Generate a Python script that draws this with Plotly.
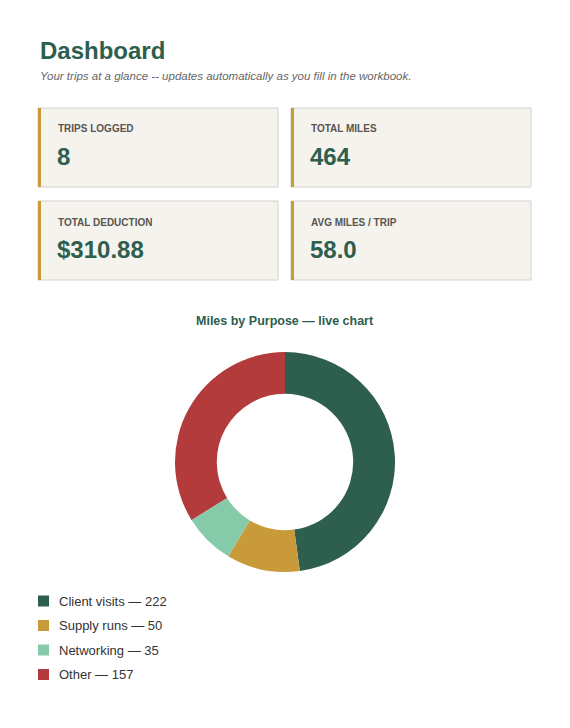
import plotly.graph_objects as go

# Data
kpi_labels = ["TRIPS LOGGED", "TOTAL MILES", "TOTAL DEDUCTION", "AVG MILES / TRIP"]
kpi_values = ["8", "464", "$310.88", "58.0"]
purposes = ["Client visits", "Supply runs", "Networking", "Other"]
miles = [222, 50, 35, 157]
colors = ["#2d5e4e", "#c99a3a", "#86cba9", "#b33b3b"]

W, H = 570, 728
# page offset compensation
def px(x): return (x - 8) / W
def py(y): return 1 - (y - 8) / H

fig = go.Figure()

fig.add_trace(go.Pie(
    labels=purposes, values=miles, hole=0.62, sort=False, direction="clockwise",
    rotation=0, marker=dict(colors=colors, line=dict(width=0)),
    textinfo="none", showlegend=False,
    domain=dict(x=[px(175), px(395)], y=[py(573), py(351)]),
))

shapes, annos = [], []
font = "Liberation Sans, Arial, sans-serif"

annos.append(dict(x=px(38), y=py(50), text="<b>Dashboard</b>", showarrow=False,
                  xanchor="left", yanchor="middle", font=dict(size=24, color="#2d5e4e", family=font)))
annos.append(dict(x=px(38), y=py(76), text="<i>Your trips at a glance -- updates automatically as you fill in the workbook.</i>",
                  showarrow=False, xanchor="left", yanchor="middle", font=dict(size=11.5, color="#666", family=font)))

card_x = [38, 291]
card_y = [108, 201]
for i, (lab, val) in enumerate(zip(kpi_labels, kpi_values)):
    x0 = card_x[i % 2]; y0 = card_y[i // 2]
    x1, y1 = x0 + 240, y0 + 79
    shapes.append(dict(type="rect", xref="paper", yref="paper", x0=px(x0), x1=px(x1), y0=py(y1), y1=py(y0),
                       fillcolor="#f5f3ee", line=dict(color="#d5d2cb", width=1)))
    shapes.append(dict(type="rect", xref="paper", yref="paper", x0=px(x0), x1=px(x0 + 3), y0=py(y1), y1=py(y0),
                       fillcolor="#c99a3a", line=dict(width=0)))
    annos.append(dict(x=px(x0 + 18), y=py(y0 + 21), text="<b>" + lab + "</b>", showarrow=False,
                      xanchor="left", yanchor="middle", font=dict(size=10, color="#5a5550", family=font)))
    annos.append(dict(x=px(x0 + 17), y=py(y0 + 49), text="<b>" + val + "</b>", showarrow=False,
                      xanchor="left", yanchor="middle", font=dict(size=24, color="#2d5e4e", family=font)))

annos.append(dict(x=px(285), y=py(321), text="<b>Miles by Purpose — live chart</b>", showarrow=False,
                  xanchor="center", yanchor="middle", font=dict(size=12.5, color="#2d5e4e", family=font)))

for i, (p, m, c) in enumerate(zip(purposes, miles, colors)):
    yc = 601 + i * 24.5
    shapes.append(dict(type="rect", xref="paper", yref="paper", x0=px(38), x1=px(49), y0=py(yc + 5.5), y1=py(yc - 5.5),
                       fillcolor=c, line=dict(width=0)))
    annos.append(dict(x=px(57), y=py(yc), text=f"{p} — {m}", showarrow=False, xanchor="left", yanchor="middle",
                      font=dict(size=13, color="#333", family=font)))

fig.update_layout(width=W, height=H, margin=dict(l=0, r=0, t=0, b=0),
                  paper_bgcolor="white", plot_bgcolor="white", shapes=shapes, annotations=annos)

fig.write_html("out.html")
